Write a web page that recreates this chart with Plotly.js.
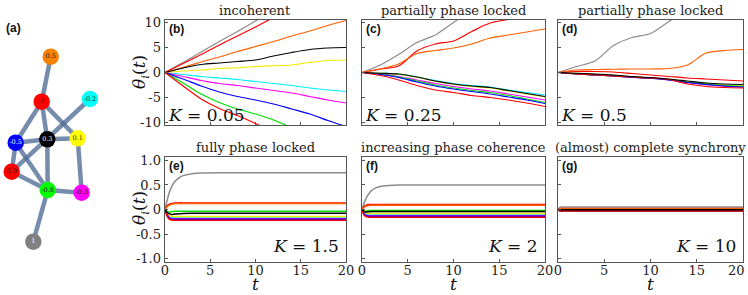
<!DOCTYPE html>
<html>
<head>
<meta charset="utf-8">
<script src="https://cdn.plot.ly/plotly-3.0.1.min.js"></script>
<style>html,body{margin:0;padding:0;background:#fff;}#chart{width:748px;height:295px;}</style>
</head>
<body>
<div id="chart"></div>
<script>
// ---------------- DATA ----------------
// oscillators (natural frequencies) and colours, in drawing order
const oscNames  = ["1", "0.9", "0.5", "-0.2", "0.1", "-0.3", "-0.8", "-0.5", "-1", "0.3"];
const oscColors = ["#8c8c8c", "#ff0000", "#ff6000", "#00eeff", "#f2ea00", "#ff00ff", "#00e000", "#0000ff", "#ff0000", "#000000"];

// network panel (a): node positions (pixels), labels, colours
const nodeX = [50.7, 41.7, 90.0, 15.7, 47.3, 77.7, 11.7, 47.7, 81.7, 33.3];
const nodeY = [56.7, 101.7, 99.0, 142.7, 139.3, 138.3, 171.7, 190.0, 192.7, 241.7];
const nodeLabels = ["0.5", "-1", "-0.2", "-0.5", "0.3", "0.1", "0.9", "-0.8", "-0.3", "1"];
const nodeColors = ["#f58200", "#ff0000", "#00ffff", "#0000ff", "#000000", "#ffff00", "#ff0000", "#00ff00", "#ff00ff", "#808080"];
const nodeTextColors = ["#222", "#222", "#222", "#fff", "#fff", "#222", "#222", "#222", "#222", "#fff"];
const edgeFrom = [0, 1, 1, 1, 2, 3, 3, 3, 4, 4, 5, 6, 7, 7];
const edgeTo   = [1, 3, 4, 5, 6, 4, 6, 7, 5, 7, 8, 7, 8, 9];

// time grids
const tTop = [0, 2, 4, 6, 8, 10, 12, 14, 16, 18, 20];
const tBot = [0, 0.25, 0.5, 0.75, 1, 1.5, 2, 3, 4, 6, 10, 20];

// theta_i(t), rows follow oscNames order
const thetaB = [ // K = 0.05
  [0, 2.0, 4.1, 6.2, 8.2, 10.3, 12.4, 14.4, 16.5, 18.5, 20.6],
  [0, 1.8, 3.6, 5.5, 7.3, 9.1, 11.0, 12.8, 14.6, 16.4, 18.2],
  [0, 1.05, 2.1, 3.1, 4.2, 5.2, 6.2, 7.3, 8.3, 9.4, 10.4],
  [0, -0.4, -0.8, -1.1, -1.4, -1.8, -2.2, -2.6, -3.1, -3.5, -3.8],
  [0, 0.3, 0.5, 0.8, 0.95, 1.2, 1.35, 1.5, 2.0, 2.4, 2.5],
  [0, -0.8, -1.6, -2.2, -2.6, -3.1, -3.6, -4.1, -4.8, -5.5, -6.1],
  [0, -2.1, -4.3, -6.0, -7.3, -8.3, -9.5, -11.0, -12.5, -14.0, -15.5],
  [0, -1.3, -2.7, -3.9, -4.8, -5.5, -6.3, -7.3, -8.3, -9.6, -10.8],
  [0, -2.7, -5.3, -7.2, -8.6, -10.2, -12.0, -14.0, -16.0, -18.0, -20.0],
  [0, 0.9, 1.6, 1.9, 2.2, 2.5, 3.3, 4.0, 4.6, 4.9, 5.0]
];
const thetaC = [ // K = 0.25
  [0, 1.5, 3.6, 6.0, 7.5, 10.0, 12.5, 14.5, 16.5, 18.5, 20.5],
  [0, 0.7, 1.3, 4.3, 5.7, 6.3, 8.2, 9.9, 10.6, 11.2, 11.8],
  [0, 0.7, 1.7, 3.8, 4.4, 4.9, 5.7, 6.9, 7.5, 8.1, 8.7],
  [0, -0.15, -0.3, -0.9, -1.6, -2.2, -2.6, -2.9, -3.5, -4.0, -4.5],
  [0, -0.15, -0.35, -0.95, -1.75, -2.35, -2.8, -3.1, -3.7, -4.3, -4.9],
  [0, -0.3, -0.8, -1.5, -2.2, -2.8, -3.3, -3.7, -4.3, -4.9, -5.5],
  [0, -0.35, -0.9, -1.7, -2.5, -3.1, -3.6, -4.0, -4.6, -5.3, -6.0],
  [0, -0.4, -1.0, -1.9, -2.7, -3.3, -3.8, -4.3, -4.9, -5.5, -6.2],
  [0, -0.6, -1.5, -2.6, -3.5, -4.0, -4.6, -5.0, -5.5, -6.1, -6.8],
  [0, -0.15, -0.3, -0.9, -1.7, -2.3, -2.7, -3.0, -3.6, -4.2, -4.8]
];
const thetaD = [ // K = 0.5
  [0, 1.2, 2.3, 5.4, 7.0, 7.8, 10.2, 12.5, 14.0, 16.0, 18.0],
  [0, 0.2, 0.2, 0.1, -0.2, -0.5, -0.8, -1.1, -1.3, -1.5, -1.7],
  [0, 0.5, 0.6, 0.65, 0.7, 0.7, 0.8, 1.5, 3.9, 4.4, 4.6],
  [0, -0.2, -0.4, -0.6, -0.9, -1.1, -1.4, -1.9, -2.3, -2.6, -2.8],
  [0, -0.15, -0.35, -0.55, -0.85, -1.05, -1.35, -1.8, -2.2, -2.45, -2.6],
  [0, -0.25, -0.5, -0.7, -0.95, -1.15, -1.5, -2.0, -2.45, -2.75, -2.9],
  [0, -0.3, -0.5, -0.7, -0.9, -1.1, -1.45, -1.9, -2.3, -2.6, -2.75],
  [0, -0.3, -0.5, -0.7, -0.95, -1.15, -1.5, -2.0, -2.4, -2.7, -2.9],
  [0, -0.3, -0.5, -0.7, -0.9, -1.1, -1.4, -2.3, -2.8, -3.0, -3.1],
  [0, -0.15, -0.3, -0.5, -0.8, -1.0, -1.3, -1.7, -2.1, -2.3, -2.4]
];
const thetaE = [ // K = 1.5
  [0, 0.2, 0.36, 0.47, 0.55, 0.64, 0.69, 0.73, 0.745, 0.75, 0.75, 0.75],
  [0, 0.08, 0.11, 0.125, 0.13, 0.135, 0.135, 0.135, 0.135, 0.135, 0.135, 0.135],
  [0, 0.06, 0.09, 0.11, 0.115, 0.12, 0.12, 0.12, 0.12, 0.12, 0.12, 0.12],
  [0, -0.1, -0.15, -0.17, -0.175, -0.175, -0.175, -0.175, -0.175, -0.175, -0.175, -0.175],
  [0, -0.08, -0.12, -0.14, -0.145, -0.145, -0.145, -0.145, -0.145, -0.145, -0.145, -0.145],
  [0, -0.11, -0.17, -0.19, -0.19, -0.19, -0.19, -0.19, -0.19, -0.19, -0.19, -0.19],
  [0, -0.05, -0.05, -0.04, -0.04, -0.035, -0.035, -0.035, -0.035, -0.035, -0.035, -0.035],
  [0, -0.12, -0.18, -0.2, -0.2, -0.2, -0.2, -0.2, -0.2, -0.2, -0.2, -0.2],
  [0, -0.14, -0.2, -0.215, -0.22, -0.22, -0.22, -0.22, -0.22, -0.22, -0.22, -0.22],
  [0, -0.06, -0.09, -0.1, -0.095, -0.085, -0.08, -0.075, -0.075, -0.075, -0.075, -0.075]
];
const thetaF = [ // K = 2
  [0, 0.14, 0.25, 0.32, 0.38, 0.44, 0.47, 0.49, 0.5, 0.5, 0.5, 0.5],
  [0, 0.07, 0.09, 0.1, 0.1, 0.1, 0.1, 0.1, 0.1, 0.1, 0.1, 0.1],
  [0, 0.05, 0.07, 0.08, 0.085, 0.085, 0.085, 0.085, 0.085, 0.085, 0.085, 0.085],
  [0, -0.07, -0.1, -0.11, -0.11, -0.11, -0.11, -0.11, -0.11, -0.11, -0.11, -0.11],
  [0, -0.05, -0.07, -0.08, -0.08, -0.08, -0.08, -0.08, -0.08, -0.08, -0.08, -0.08],
  [0, -0.09, -0.12, -0.125, -0.125, -0.125, -0.125, -0.125, -0.125, -0.125, -0.125, -0.125],
  [0, -0.04, -0.03, -0.02, -0.02, -0.02, -0.02, -0.02, -0.02, -0.02, -0.02, -0.02],
  [0, -0.1, -0.13, -0.14, -0.14, -0.14, -0.14, -0.14, -0.14, -0.14, -0.14, -0.14],
  [0, -0.12, -0.15, -0.16, -0.16, -0.16, -0.16, -0.16, -0.16, -0.16, -0.16, -0.16],
  [0, -0.04, -0.05, -0.045, -0.04, -0.04, -0.04, -0.04, -0.04, -0.04, -0.04, -0.04]
];
const thetaG = [ // K = 10
  [0, 0.045, 0.05, 0.05, 0.05, 0.05, 0.05, 0.05, 0.05, 0.05, 0.05, 0.05],
  [0, 0.02, 0.02, 0.02, 0.02, 0.02, 0.02, 0.02, 0.02, 0.02, 0.02, 0.02],
  [0, 0.015, 0.015, 0.015, 0.015, 0.015, 0.015, 0.015, 0.015, 0.015, 0.015, 0.015],
  [0, -0.02, -0.02, -0.02, -0.02, -0.02, -0.02, -0.02, -0.02, -0.02, -0.02, -0.02],
  [0, -0.015, -0.015, -0.015, -0.015, -0.015, -0.015, -0.015, -0.015, -0.015, -0.015, -0.015],
  [0, -0.025, -0.025, -0.025, -0.025, -0.025, -0.025, -0.025, -0.025, -0.025, -0.025, -0.025],
  [0, -0.03, -0.03, -0.03, -0.03, -0.03, -0.03, -0.03, -0.03, -0.03, -0.03, -0.03],
  [0, -0.025, -0.025, -0.025, -0.025, -0.025, -0.025, -0.025, -0.025, -0.025, -0.025, -0.025],
  [0, -0.03, -0.03, -0.03, -0.03, -0.03, -0.03, -0.03, -0.03, -0.03, -0.03, -0.03],
  [0, -0.005, -0.005, -0.005, -0.005, -0.005, -0.005, -0.005, -0.005, -0.005, -0.005, -0.005]
];

const panelTitles = ["incoherent", "partially phase locked", "partially phase locked",
                     "fully phase locked", "increasing phase coherence", "(almost) complete synchrony"];
const panelTags = ["(b)", "(c)", "(d)", "(e)", "(f)", "(g)"];
const couplings = ["0.05", "0.25", "0.5", "1.5", "2", "10"];
const xTicks = [0, 5, 10, 15, 20];
const xTickText = ["0", "5", "10", "15", "20"];
const yTicksTop = [-10, -5, 0, 5, 10];
const yTickTextTop = ["-10", "-5", "0", "5", "10"];
const yTicksBot = [-1, -0.5, 0, 0.5, 1];
const yTickTextBot = ["-1.0", "-0.5", "0", "0.5", "1.0"];

// ---------------- LAYOUT HELPERS ----------------
const W = 748, H = 295;
const px = x => x / W;
const py = y => 1 - y / H;
const SERIF = "DejaVu Serif";
const SANS = "Liberation Sans";
const FRAME = "#555555";

const cols = [[165, 346], [362, 545], [558, 743]];
const rows = [[20, 125], [157, 262]];
const dataSets = [thetaB, thetaC, thetaD, thetaE, thetaF, thetaG];

const traces = [];
const layout = {
  width: W, height: H,
  margin: {l: 0, r: 0, t: 0, b: 0},
  paper_bgcolor: "#fff", plot_bgcolor: "#fff",
  showlegend: false,
  font: {family: SERIF},
  annotations: []
};

for (let p = 0; p < 6; p++) {
  const r = p < 3 ? 0 : 1, c = p % 3;
  const idx = p + 1;
  const xa = idx === 1 ? "x" : "x" + idx;
  const ya = idx === 1 ? "y" : "y" + idx;
  const xk = idx === 1 ? "xaxis" : "xaxis" + idx;
  const yk = idx === 1 ? "yaxis" : "yaxis" + idx;
  const tt = r === 0 ? tTop : tBot;
  const ds = dataSets[p];
  for (let i = 0; i < ds.length; i++) {
    traces.push({
      type: "scatter", mode: "lines", x: tt, y: ds[i], xaxis: xa, yaxis: ya,
      line: {color: oscColors[i], width: r === 0 ? 1.2 : 1.5, shape: "spline", smoothing: 0.8},
      hoverinfo: "skip", cliponaxis: true
    });
  }
  // last panel: the "20" label would overflow the page, so it is placed as an annotation
  const lastCol = (r === 1 && c === 2);
  layout[xk] = {
    domain: [px(cols[c][0]), px(cols[c][1])], anchor: ya, range: [0, 20],
    tickvals: xTicks,
    ticktext: lastCol ? xTickText.map((s, i) => i === xTickText.length - 1 ? "" : s) : xTickText,
    ticks: "inside", ticklen: 3, tickcolor: FRAME, tickwidth: 1,
    ticklabelstandoff: -4,
    showticklabels: r === 1, tickfont: {family: SERIF, size: 13, color: "#222"},
    showline: true, mirror: true, linecolor: FRAME, linewidth: 1.4,
    showgrid: false, zeroline: false, fixedrange: true
  };
  if (lastCol) {
    layout.annotations.push({
      xref: "paper", yref: "paper", x: px(W - 1), y: py(270),
      text: xTickText[xTickText.length - 1], showarrow: false, xanchor: "right", yanchor: "middle",
      font: {family: SERIF, size: 13, color: "#222"}
    });
  }
  layout[yk] = {
    domain: [py(rows[r][1]), py(rows[r][0])], anchor: xa,
    range: r === 0 ? [-10.5, 10.5] : [-1.07, 1.07],
    tickvals: r === 0 ? yTicksTop : yTicksBot,
    ticktext: r === 0 ? yTickTextTop : yTickTextBot,
    ticks: "inside", ticklen: 3, tickcolor: FRAME, tickwidth: 1,
    showticklabels: c === 0, tickfont: {family: SERIF, size: 13, color: "#222"},
    showline: true, mirror: true, linecolor: FRAME, linewidth: 1.4,
    showgrid: false, zeroline: false, fixedrange: true
  };
  const cx = (cols[c][0] + cols[c][1]) / 2;
  // title
  layout.annotations.push({
    xref: "paper", yref: "paper", x: px(cx), y: py(rows[r][0] - 10),
    text: panelTitles[p], showarrow: false, xanchor: "center", yanchor: "middle",
    font: {family: SERIF, size: 13, color: "#222"}
  });
  // tag
  layout.annotations.push({
    xref: "paper", yref: "paper", x: px(cols[c][0] + 2), y: py(rows[r][0] + 9),
    text: "<b>" + panelTags[p] + "</b>", showarrow: false, xanchor: "left", yanchor: "middle",
    font: {family: SANS, size: 12, color: "#111"}
  });
  // K label
  if (r === 0) {
    layout.annotations.push({
      xref: "paper", yref: "paper", x: px(cols[c][0] + 1), y: py(rows[r][1] - 10),
      text: "<i>K</i> = " + couplings[p], showarrow: false, xanchor: "left", yanchor: "middle",
      font: {family: SERIF, size: 17, color: "#111"}
    });
  } else {
    layout.annotations.push({
      xref: "paper", yref: "paper", x: px(cols[c][1] - 5), y: py(rows[r][1] - 16),
      text: "<i>K</i> = " + couplings[p], showarrow: false, xanchor: "right", yanchor: "middle",
      font: {family: SERIF, size: 17, color: "#111"}
    });
    layout.annotations.push({
      xref: "paper", yref: "paper", x: px(cx), y: py(284),
      text: "<i>t</i>", showarrow: false, xanchor: "center", yanchor: "middle",
      font: {family: SERIF, size: 17, color: "#111"}
    });
  }
}
// y-axis titles
[72, 208].forEach(yy => layout.annotations.push({
  xref: "paper", yref: "paper", x: px(140), y: py(yy),
  text: "<i>θ<sub>i</sub></i>(<i>t</i>)", showarrow: false, textangle: -90,
  xanchor: "center", yanchor: "middle", font: {family: SERIF, size: 17, color: "#111"}
}));
// (a) tag
layout.annotations.push({
  xref: "paper", yref: "paper", x: px(4), y: py(28),
  text: "<b>(a)</b>", showarrow: false, xanchor: "left", yanchor: "middle",
  font: {family: SANS, size: 12, color: "#111"}
});

// network panel
for (let k = 0; k < edgeFrom.length; k++) {
  traces.push({
    type: "scatter", mode: "lines", x: [nodeX[edgeFrom[k]], nodeX[edgeTo[k]]],
    y: [nodeY[edgeFrom[k]], nodeY[edgeTo[k]]], xaxis: "x7", yaxis: "y7",
    line: {color: "rgba(80,108,150,0.78)", width: 4.5}, hoverinfo: "skip"
  });
}
traces.push({
  type: "scatter", mode: "markers+text", x: nodeX, y: nodeY, xaxis: "x7", yaxis: "y7",
  marker: {size: 16.5, color: nodeColors, line: {width: 0}},
  text: nodeLabels, textposition: "middle center",
  textfont: {family: SERIF, size: 6.5, color: nodeTextColors}, hoverinfo: "skip"
});
layout.xaxis7 = {domain: [0, px(130)], anchor: "y7", range: [0, 130], visible: false, fixedrange: true};
layout.yaxis7 = {domain: [0, 1], anchor: "x7", range: [H, 0], visible: false, fixedrange: true};

Plotly.newPlot("chart", traces, layout, {displayModeBar: false, staticPlot: true});
</script>
</body>
</html>
